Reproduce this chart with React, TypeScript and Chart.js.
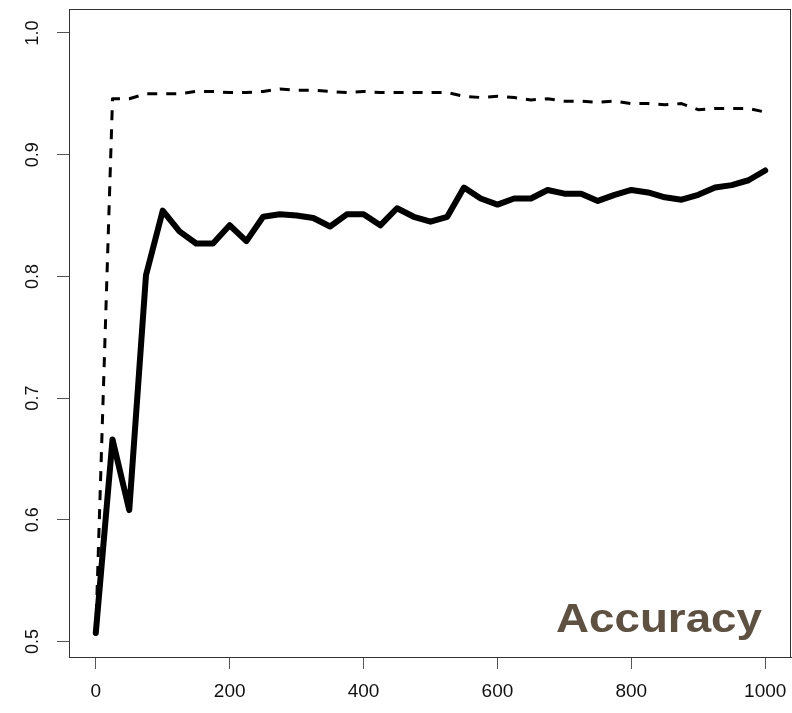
import React, { useEffect, useRef } from "react";
import { Chart, registerables } from "chart.js";

Chart.register(...registerables);

const ITERATIONS = [
  0, 25, 50, 75, 100, 125, 150, 175, 200, 225, 250, 275, 300, 325, 350, 375, 400,
  425, 450, 475, 500, 525, 550, 575, 600, 625, 650, 675, 700, 725, 750, 775, 800,
  825, 850, 875, 900, 925, 950, 975, 1000,
];

const TEST_ACCURACY = [
  0.507, 0.666, 0.608, 0.801, 0.854, 0.837, 0.827, 0.827, 0.842, 0.829, 0.849,
  0.851, 0.85, 0.848, 0.841, 0.851, 0.851, 0.842, 0.856, 0.849, 0.845, 0.849,
  0.873, 0.864, 0.859, 0.864, 0.864, 0.871, 0.868, 0.868, 0.862, 0.867, 0.871,
  0.869, 0.865, 0.863, 0.867, 0.873, 0.875, 0.879, 0.887,
];

const TRAIN_ACCURACY = [
  0.507, 0.946, 0.946, 0.95, 0.95, 0.95, 0.952, 0.952, 0.951, 0.951, 0.952,
  0.954, 0.953, 0.953, 0.952, 0.951, 0.952, 0.951, 0.951, 0.951, 0.951, 0.951,
  0.948, 0.947, 0.948, 0.947, 0.945, 0.946, 0.944, 0.944, 0.943, 0.944, 0.942,
  0.942, 0.941, 0.942, 0.937, 0.938, 0.938, 0.938, 0.935,
];

const X_TICKS = [0, 200, 400, 600, 800, 1000];
const X_TICK_LABELS = ["0", "200", "400", "600", "800", "1000"];
const Y_TICKS = [0.5, 0.6, 0.7, 0.8, 0.9, 1.0];
const Y_TICK_LABELS = ["0.5", "0.6", "0.7", "0.8", "0.9", "1.0"];
const TITLE = "Accuracy";

const FONT = '"Liberation Sans", Arial, Helvetica, sans-serif';

const boxPlugin = {
  id: "rbox",
  afterDraw(chart: any) {
    const { ctx, chartArea } = chart;
    ctx.save();
    ctx.strokeStyle = "#333";
    ctx.lineWidth = 1;
    const l = Math.round(chartArea.left) + 0.5;
    const t = Math.round(chartArea.top) + 0.5;
    const r = Math.round(chartArea.right) - 1.5;
    const b = Math.round(chartArea.bottom) + 0.5;
    ctx.strokeRect(l, t, r - l, b - t);
    // Title inside the plot
    ctx.font = `bold 40px ${FONT}`;
    const w = ctx.measureText(TITLE).width;
    const target = 206;
    const sx = target / w;
    const rightX = chartArea.right - 30;
    const baseY = chartArea.bottom - 25;
    ctx.translate(rightX - target, baseY);
    ctx.scale(sx, 1);
    ctx.fillStyle = "#5E5142";
    ctx.textAlign = "left";
    ctx.textBaseline = "alphabetic";
    ctx.fillText(TITLE, 0, 0);
    ctx.restore();
  },
};

const zeroPadding = (scale: any) => {
  scale.paddingLeft = 0;
  scale.paddingRight = 0;
  scale.paddingTop = 0;
  scale.paddingBottom = 0;
};

export default function App() {
  const canvasRef = useRef<HTMLCanvasElement | null>(null);

  useEffect(() => {
    document.body.style.margin = "0";
    const canvas = canvasRef.current;
    if (!canvas) return;
    const chart = new Chart(canvas, {
      type: "line",
      data: {
        datasets: [
          {
            label: "test",
            data: ITERATIONS.map((x, i) => ({ x, y: TEST_ACCURACY[i] })),
            borderColor: "#000",
            borderWidth: 6,
            borderCapStyle: "round",
            borderJoinStyle: "round",
            pointRadius: 0,
            tension: 0,
            fill: false,
          },
          {
            label: "train",
            data: ITERATIONS.map((x, i) => ({ x, y: TRAIN_ACCURACY[i] })),
            borderColor: "#000",
            borderWidth: 3,
            borderDash: [10, 9],
            borderCapStyle: "butt",
            borderJoinStyle: "round",
            pointRadius: 0,
            tension: 0,
            fill: false,
          },
        ],
      },
      options: {
        animation: false,
        responsive: false,
        maintainAspectRatio: false,
        devicePixelRatio: 1,
        layout: { padding: { top: 9, right: 0, left: 0, bottom: 0 } },
        plugins: {
          legend: { display: false },
          tooltip: { enabled: false },
        },
        scales: {
          x: {
            type: "linear",
            min: -40,
            max: 1040,
            afterBuildTicks: (scale: any) => {
              scale.ticks = X_TICKS.map((v) => ({ value: v }));
            },
            afterFit: (scale: any) => {
              scale.height = 56;
              zeroPadding(scale);
            },
            grid: {
              display: true,
              drawOnChartArea: false,
              drawTicks: true,
              tickLength: 12,
              color: "#555",
              lineWidth: 1,
            },
            border: { display: true, color: "#333", width: 1 },
            ticks: {
              autoSkip: false,
              maxRotation: 0,
              minRotation: 0,
              padding: 11,
              color: "#111",
              font: { family: FONT, size: 19 },
              callback: (v: any) => {
                const i = X_TICKS.indexOf(Number(v));
                return i >= 0 ? X_TICK_LABELS[i] : "";
              },
            },
          },
          y: {
            type: "linear",
            min: 0.4873,
            max: 1.0197,
            afterBuildTicks: (scale: any) => {
              scale.ticks = Y_TICKS.map((v) => ({ value: v }));
            },
            afterFit: (scale: any) => {
              scale.width = 69;
              zeroPadding(scale);
            },
            grid: {
              display: true,
              drawOnChartArea: false,
              drawTicks: true,
              tickLength: 12,
              color: "#555",
              lineWidth: 1,
            },
            border: { display: true, color: "#222", width: 1 },
            ticks: {
              autoSkip: false,
              minRotation: 90,
              maxRotation: 90,
              crossAlign: "center",
              padding: 11,
              color: "#111",
              font: { family: FONT, size: 18 },
              callback: (v: any) => {
                const i = Y_TICKS.findIndex((t) => Math.abs(t - Number(v)) < 1e-9);
                return i >= 0 ? Y_TICK_LABELS[i] : "";
              },
            },
          },
        },
      },
      plugins: [boxPlugin],
    } as any);
    return () => chart.destroy();
  }, []);

  return (
    <div style={{ width: 792, height: 713, background: "#fff" }}>
      <canvas ref={canvasRef} width={792} height={713} style={{ display: "block" }} />
    </div>
  );
}
